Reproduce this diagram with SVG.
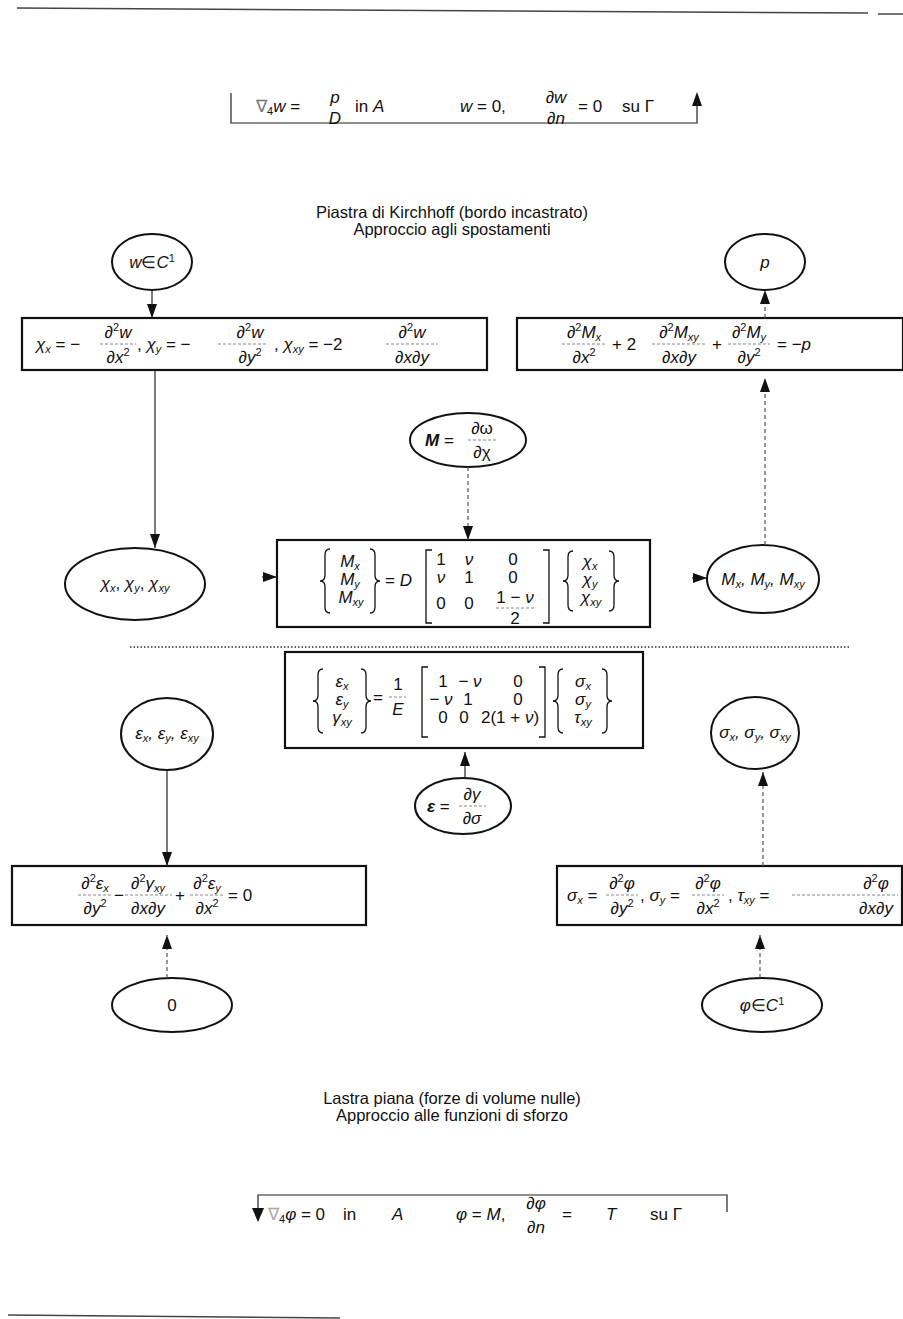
<svg xmlns="http://www.w3.org/2000/svg" width="903" height="1319" viewBox="0 0 903 1319">
<style>
text{font-family:"Liberation Sans",Arial,sans-serif;fill:#111;font-size:17px}
.t{font-size:16.5px}
.i{font-style:italic}
.b{font-weight:bold;font-style:italic}
.s{font-size:11px;font-style:italic}
.sp{font-size:11px}
.c{text-anchor:middle}
.box{fill:none;stroke:#111;stroke-width:2.2}
.ell{fill:none;stroke:#111;stroke-width:2}
.ln{fill:none;stroke:#222;stroke-width:1.2}
.fl{fill:none;stroke:#555;stroke-width:1.2;stroke-dasharray:4 3}
.bar{stroke:#888;stroke-width:1;stroke-dasharray:3 2}
.br{fill:none;stroke:#111;stroke-width:1.3}
.rule{stroke:#444;stroke-width:1.5}
</style>
<defs>
<marker id="ah" markerUnits="userSpaceOnUse" markerWidth="14" markerHeight="10" refX="14" refY="5" orient="auto">
<path d="M0,0 L14,5 L0,10 z" fill="#111"/>
</marker>
</defs>
<rect width="903" height="1319" fill="#fff"/>

<!-- page rules -->
<line class="rule" x1="17" y1="8" x2="868" y2="13"/>
<line class="rule" x1="878" y1="14" x2="903" y2="14"/>
<line class="rule" x1="8" y1="1315" x2="340" y2="1318"/>

<!-- top equation bracket -->
<g id="top-eq">
<path class="ln" d="M231,93 V123 H697 V100" stroke-width="1.5"/>
<path d="M692,106 L697,92 L702,106 z" fill="#111"/>
<text x="256" y="112"><tspan fill="#777">∇</tspan><tspan class="sp" dy="3">4</tspan><tspan class="i" dy="-3">w</tspan> =</text>
<text class="i c" x="335" y="103">p</text>
<text class="i c" x="335" y="124">D</text>
<text x="355" y="112">in  <tspan class="i">A</tspan></text>
<text x="460" y="112"><tspan class="i">w</tspan> = 0,</text>
<text class="c" x="556" y="103">∂<tspan class="i">w</tspan></text>
<text class="c" x="556" y="124">∂<tspan class="i">n</tspan></text>
<text x="578" y="112">= 0</text>
<text x="622" y="112">su  Γ</text>
</g>

<text class="t c" x="452" y="218">Piastra di Kirchhoff (bordo incastrato)</text>
<text class="t c" x="452" y="235">Approccio agli spostamenti</text>

<g id="n-w">
<ellipse class="ell" cx="152" cy="262" rx="40" ry="28"/>
<text class="c" x="152" y="268"><tspan class="i">w</tspan>∈<tspan class="i">C</tspan><tspan class="sp" dy="-6">1</tspan></text>
</g>
<g id="n-p">
<ellipse class="ell" cx="765" cy="262" rx="40" ry="28"/>
<text class="i c" x="765" y="268">p</text>
</g>

<g id="box-chi">
<rect class="box" x="22" y="318" width="465" height="52"/>
<text x="36" y="350"><tspan class="i">χ</tspan><tspan class="s" dy="3">x</tspan><tspan dy="-3"> = −</tspan></text>
<line class="bar" x1="100" y1="344" x2="136" y2="344"/>
<text class="c" x="118" y="338">∂<tspan class="sp" dy="-7">2</tspan><tspan class="i" dy="7">w</tspan></text>
<text class="c" x="118" y="363">∂<tspan class="i">x</tspan><tspan class="sp" dy="-7">2</tspan></text>
<text x="137" y="350">, <tspan class="i">χ</tspan><tspan class="s" dy="3">y</tspan><tspan dy="-3"> = −</tspan></text>
<line class="bar" x1="218" y1="344" x2="268" y2="344"/>
<text class="c" x="250" y="338">∂<tspan class="sp" dy="-7">2</tspan><tspan class="i" dy="7">w</tspan></text>
<text class="c" x="250" y="363">∂<tspan class="i">y</tspan><tspan class="sp" dy="-7">2</tspan></text>
<text x="274" y="350">, <tspan class="i">χ</tspan><tspan class="s" dy="3">xy</tspan><tspan dy="-3"> = −2</tspan></text>
<line class="bar" x1="386" y1="344" x2="438" y2="344"/>
<text class="c" x="412" y="338">∂<tspan class="sp" dy="-7">2</tspan><tspan class="i" dy="7">w</tspan></text>
<text class="c" x="412" y="363">∂<tspan class="i">x</tspan>∂<tspan class="i">y</tspan></text>
</g>

<g id="box-eq">
<rect class="box" x="517" y="318" width="386" height="52"/>
<line class="bar" x1="562" y1="344" x2="606" y2="344"/>
<text class="c" x="584" y="338">∂<tspan class="sp" dy="-7">2</tspan><tspan class="i" dy="7">M</tspan><tspan class="s" dy="3">x</tspan></text>
<text class="c" x="584" y="363">∂<tspan class="i">x</tspan><tspan class="sp" dy="-7">2</tspan></text>
<text x="612" y="350">+ 2</text>
<line class="bar" x1="652" y1="344" x2="706" y2="344"/>
<text class="c" x="679" y="338">∂<tspan class="sp" dy="-7">2</tspan><tspan class="i" dy="7">M</tspan><tspan class="s" dy="3">xy</tspan></text>
<text class="c" x="679" y="363">∂<tspan class="i">x</tspan>∂<tspan class="i">y</tspan></text>
<text x="712" y="350">+</text>
<line class="bar" x1="728" y1="344" x2="770" y2="344"/>
<text class="c" x="749" y="338">∂<tspan class="sp" dy="-7">2</tspan><tspan class="i" dy="7">M</tspan><tspan class="s" dy="3">y</tspan></text>
<text class="c" x="749" y="363">∂<tspan class="i">y</tspan><tspan class="sp" dy="-7">2</tspan></text>
<text x="777" y="350">= −<tspan class="i">p</tspan></text>
</g>

<g id="n-M">
<ellipse class="ell" cx="468" cy="440" rx="58" ry="27"/>
<text x="425" y="446"><tspan class="b">M</tspan> =</text>
<line class="bar" x1="468" y1="440" x2="496" y2="440"/>
<text class="c" x="482" y="434">∂ω</text>
<text class="c" x="482" y="458">∂χ</text>
</g>

<g id="n-chi">
<ellipse class="ell" cx="135" cy="584" rx="70" ry="36"/>
<text class="c" x="135" y="589" font-size="14"><tspan class="i">χ</tspan><tspan class="s" dy="3">x</tspan><tspan dy="-3">, </tspan><tspan class="i">χ</tspan><tspan class="s" dy="3">y</tspan><tspan dy="-3">, </tspan><tspan class="i">χ</tspan><tspan class="s" dy="3">xy</tspan></text>
</g>

<g id="box-M">
<rect class="box" x="277" y="540" width="373" height="87"/>
<path class="br" d="M330,549 Q325,549 325,555 L325,575 Q325,581 320,581 Q325,581 325,587 L325,607 Q325,613 330,613"/>
<text class="c i" x="350" y="567">M<tspan class="s" dy="3">x</tspan></text>
<text class="c i" x="350" y="585">M<tspan class="s" dy="3">y</tspan></text>
<text class="c i" x="351" y="603">M<tspan class="s" dy="3">xy</tspan></text>
<path class="br" d="M370,549 Q375,549 375,555 L375,575 Q375,581 380,581 Q375,581 375,587 L375,607 Q375,613 370,613"/>
<text x="385" y="586">= <tspan class="i">D</tspan></text>
<path class="br" d="M432,550 H426 V623 H432" stroke-width="1.6"/>
<text class="c" x="441" y="565">1</text>
<text class="c i" x="469" y="565">ν</text>
<text class="c" x="513" y="565">0</text>
<text class="c i" x="441" y="583">ν</text>
<text class="c" x="469" y="583">1</text>
<text class="c" x="513" y="583">0</text>
<text class="c" x="441" y="609">0</text>
<text class="c" x="469" y="609">0</text>
<text class="c" x="515" y="603" font-size="16">1 − <tspan class="i">ν</tspan></text>
<line class="bar" x1="496" y1="608" x2="534" y2="608"/>
<text class="c" x="515" y="624" font-size="16">2</text>
<path class="br" d="M543,550 H549 V623 H543" stroke-width="1.6"/>
<path class="br" d="M573,551 Q568,551 568,557 L568,575 Q568,581 563,581 Q568,581 568,587 L568,605 Q568,611 573,611"/>
<text class="c i" x="590" y="567" font-size="15">χ<tspan class="s" dy="3">x</tspan></text>
<text class="c i" x="590" y="585" font-size="15">χ<tspan class="s" dy="3">y</tspan></text>
<text class="c i" x="591" y="603" font-size="15">χ<tspan class="s" dy="3">xy</tspan></text>
<path class="br" d="M609,551 Q614,551 614,557 L614,575 Q614,581 619,581 Q614,581 614,587 L614,605 Q614,611 609,611"/>
</g>

<g id="n-Mxy">
<ellipse class="ell" cx="763" cy="579" rx="56" ry="34"/>
<text class="c i" x="763" y="585" font-size="16">M<tspan class="s" dy="3">x</tspan><tspan dy="-3">, M</tspan><tspan class="s" dy="3">y</tspan><tspan dy="-3">, M</tspan><tspan class="s" dy="3">xy</tspan></text>
</g>

<line x1="130" y1="647" x2="850" y2="647" stroke="#333" stroke-width="1.3" stroke-dasharray="1.5 2"/>

<g id="box-E">
<rect class="box" x="285" y="652" width="358" height="96"/>
<path class="br" d="M323,669 Q318,669 318,675 L318,695 Q318,701 313,701 Q318,701 318,707 L318,727 Q318,733 323,733"/>
<text class="c i" x="342" y="687">ε<tspan class="s" dy="3">x</tspan></text>
<text class="c i" x="342" y="705">ε<tspan class="s" dy="3">y</tspan></text>
<text class="c i" x="342" y="723">γ<tspan class="s" dy="3">xy</tspan></text>
<path class="br" d="M361,669 Q366,669 366,675 L366,695 Q366,701 371,701 Q366,701 366,707 L366,727 Q366,733 361,733"/>
<text x="373" y="703">=</text>
<line class="bar" x1="389" y1="697" x2="406" y2="697"/>
<text class="c" x="398" y="690">1</text>
<text class="c i" x="398" y="715">E</text>
<path class="br" d="M428,667 H422 V737 H428" stroke-width="1.6"/>
<text class="c" x="443" y="687">1</text>
<text class="c" x="470" y="687">− <tspan class="i">ν</tspan></text>
<text class="c" x="518" y="687">0</text>
<text class="c" x="441" y="705">− <tspan class="i">ν</tspan></text>
<text class="c" x="468" y="705">1</text>
<text class="c" x="518" y="705">0</text>
<text class="c" x="443" y="723">0</text>
<text class="c" x="464" y="723">0</text>
<text class="c" x="510" y="723">2(1 + <tspan class="i">ν</tspan>)</text>
<path class="br" d="M539,667 H545 V737 H539" stroke-width="1.6"/>
<path class="br" d="M563,669 Q558,669 558,675 L558,695 Q558,701 553,701 Q558,701 558,707 L558,727 Q558,733 563,733"/>
<text class="c i" x="583" y="687">σ<tspan class="s" dy="3">x</tspan></text>
<text class="c i" x="583" y="705">σ<tspan class="s" dy="3">y</tspan></text>
<text class="c i" x="583" y="723">τ<tspan class="s" dy="3">xy</tspan></text>
<path class="br" d="M602,669 Q607,669 607,675 L607,695 Q607,701 612,701 Q607,701 607,707 L607,727 Q607,733 602,733"/>
</g>

<g id="n-eps">
<ellipse class="ell" cx="167" cy="734" rx="46" ry="36"/>
<text class="c i" x="167" y="739" font-size="15">ε<tspan class="s" dy="3">x</tspan><tspan dy="-3">, ε</tspan><tspan class="s" dy="3">y</tspan><tspan dy="-3">, ε</tspan><tspan class="s" dy="3">xy</tspan></text>
</g>
<g id="n-sig">
<ellipse class="ell" cx="755" cy="733" rx="44" ry="36"/>
<text class="c i" x="755" y="738" font-size="14">σ<tspan class="s" dy="3">x</tspan><tspan dy="-3">, σ</tspan><tspan class="s" dy="3">y</tspan><tspan dy="-3">, σ</tspan><tspan class="s" dy="3">xy</tspan></text>
</g>
<g id="n-epsder">
<ellipse class="ell" cx="463" cy="806" rx="48" ry="28"/>
<text x="427" y="812"><tspan class="b">ε</tspan> =</text>
<line class="bar" x1="459" y1="806" x2="486" y2="806"/>
<text class="c" x="472" y="800">∂<tspan class="i">γ</tspan></text>
<text class="c" x="472" y="824">∂<tspan class="i">σ</tspan></text>
</g>

<g id="box-compat">
<rect class="box" x="12" y="866" width="354" height="59"/>
<line class="bar" x1="78" y1="895" x2="112" y2="895"/>
<text class="c" x="95" y="889">∂<tspan class="sp" dy="-7">2</tspan><tspan class="i" dy="7">ε</tspan><tspan class="s" dy="3">x</tspan></text>
<text class="c" x="95" y="914">∂<tspan class="i">y</tspan><tspan class="sp" dy="-7">2</tspan></text>
<text x="114" y="901">−</text>
<line class="bar" x1="125" y1="895" x2="172" y2="895"/>
<text class="c" x="148" y="889">∂<tspan class="sp" dy="-7">2</tspan><tspan class="i" dy="7">γ</tspan><tspan class="s" dy="3">xy</tspan></text>
<text class="c" x="148" y="914">∂<tspan class="i">x</tspan>∂<tspan class="i">y</tspan></text>
<text x="175" y="901">+</text>
<line class="bar" x1="190" y1="895" x2="224" y2="895"/>
<text class="c" x="207" y="889">∂<tspan class="sp" dy="-7">2</tspan><tspan class="i" dy="7">ε</tspan><tspan class="s" dy="3">y</tspan></text>
<text class="c" x="207" y="914">∂<tspan class="i">x</tspan><tspan class="sp" dy="-7">2</tspan></text>
<text x="228" y="901">= 0</text>
</g>

<g id="box-airy">
<rect class="box" x="557" y="866" width="345" height="59"/>
<text x="567" y="901" font-size="15"><tspan class="i">σ</tspan><tspan class="s" dy="3">x</tspan><tspan dy="-3"> =</tspan></text>
<line class="bar" x1="606" y1="895" x2="638" y2="895"/>
<text class="c" x="622" y="889">∂<tspan class="sp" dy="-7">2</tspan><tspan class="i" dy="7">φ</tspan></text>
<text class="c" x="622" y="914">∂<tspan class="i">y</tspan><tspan class="sp" dy="-7">2</tspan></text>
<text x="640" y="901" font-size="15">, <tspan class="i">σ</tspan><tspan class="s" dy="3">y</tspan><tspan dy="-3"> =</tspan></text>
<line class="bar" x1="692" y1="895" x2="724" y2="895"/>
<text class="c" x="708" y="889">∂<tspan class="sp" dy="-7">2</tspan><tspan class="i" dy="7">φ</tspan></text>
<text class="c" x="708" y="914">∂<tspan class="i">x</tspan><tspan class="sp" dy="-7">2</tspan></text>
<text x="728" y="901" font-size="15">, <tspan class="i">τ</tspan><tspan class="s" dy="3">xy</tspan><tspan dy="-3"> =</tspan></text>
<line class="bar" x1="792" y1="895" x2="898" y2="895"/>
<text class="c" x="876" y="889">∂<tspan class="sp" dy="-7">2</tspan><tspan class="i" dy="7">φ</tspan></text>
<text class="c" x="876" y="914">∂<tspan class="i">x</tspan>∂<tspan class="i">y</tspan></text>
</g>

<g id="n-zero">
<ellipse class="ell" cx="172" cy="1005" rx="60" ry="27"/>
<text class="c" x="172" y="1011">0</text>
</g>
<g id="n-phi">
<ellipse class="ell" cx="762" cy="1005" rx="60" ry="27"/>
<text class="c" x="762" y="1011" font-size="15"><tspan class="i">φ</tspan>∈<tspan class="i">C</tspan><tspan class="sp" dy="-6">1</tspan></text>
</g>

<text class="t c" x="452" y="1104">Lastra piana (forze di volume nulle)</text>
<text class="t c" x="452" y="1121">Approccio alle funzioni di sforzo</text>

<g id="bottom-eq">
<path class="ln" d="M258,1212 V1195 H727 V1212" stroke-width="1.5"/>
<path d="M252,1208 L258,1222 L264,1208 z" fill="#111"/>
<text x="268" y="1220"><tspan fill="#aaa">∇</tspan><tspan class="sp" dy="3">4</tspan><tspan class="i" dy="-3">φ</tspan> = 0</text>
<text x="343" y="1220">in</text>
<text class="i" x="392" y="1220">A</text>
<text x="456" y="1220"><tspan class="i">φ</tspan> = <tspan class="i">M</tspan>,</text>
<text class="c" x="536" y="1209">∂<tspan class="i">φ</tspan></text>
<text class="c" x="536" y="1233">∂<tspan class="i">n</tspan></text>
<text x="562" y="1220">=</text>
<text class="i" x="606" y="1220">T</text>
<text x="650" y="1220">su  Γ</text>
</g>

<g id="connectors">
<line class="ln" x1="152" y1="290" x2="152" y2="318" marker-end="url(#ah)"/>
<line class="ln" x1="155" y1="370" x2="155" y2="548" marker-end="url(#ah)"/>
<line class="fl" x1="468" y1="467" x2="468" y2="540" marker-end="url(#ah)"/>
<line class="ln" x1="262" y1="577" x2="277" y2="577" marker-end="url(#ah)"/>
<line class="ln" x1="692" y1="578" x2="707" y2="578" marker-end="url(#ah)"/>
<line class="fl" x1="765" y1="545" x2="765" y2="378" marker-end="url(#ah)"/>
<line class="fl" x1="765" y1="318" x2="765" y2="290" marker-end="url(#ah)"/>
<line class="ln" x1="167" y1="770" x2="167" y2="866" marker-end="url(#ah)"/>
<line class="ln" x1="465" y1="778" x2="465" y2="752" marker-end="url(#ah)"/>
<line class="fl" x1="763" y1="866" x2="763" y2="772" marker-end="url(#ah)"/>
<line class="fl" x1="167" y1="978" x2="167" y2="935" marker-end="url(#ah)"/>
<line class="fl" x1="760" y1="978" x2="760" y2="935" marker-end="url(#ah)"/>
</g>
</svg>
